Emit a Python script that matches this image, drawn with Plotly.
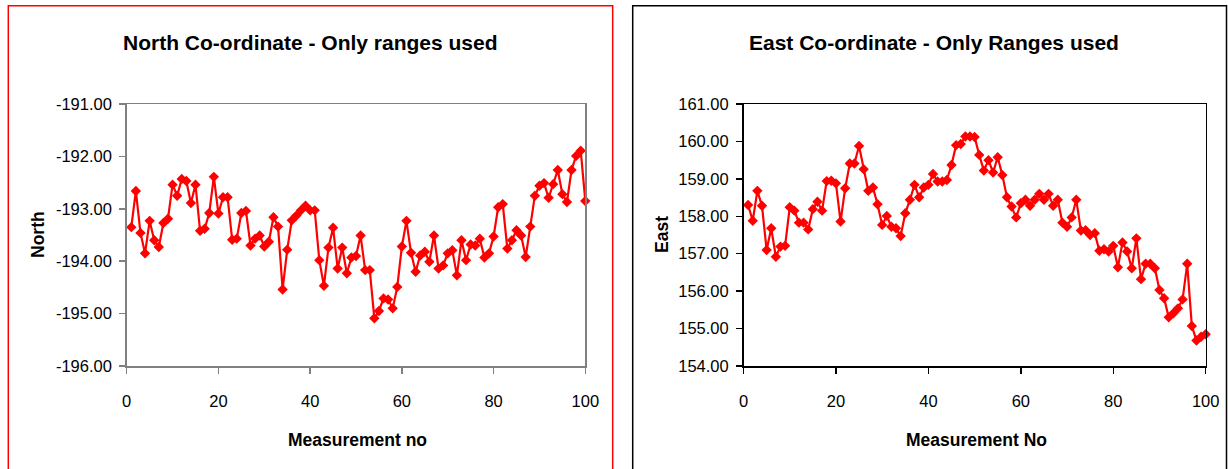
import plotly.graph_objects as go

# ---------------- data ----------------
measurement = list(range(1, 101))

north = [
    -193.35, -192.66, -193.46, -193.85, -193.23, -193.60, -193.73, -193.27, -193.19, -192.54,
    -192.75, -192.43, -192.47, -192.89, -192.54, -193.42, -193.38, -193.08, -192.39, -193.09,
    -192.78, -192.78, -193.59, -193.57, -193.08, -193.04, -193.70, -193.57, -193.51, -193.72,
    -193.63, -193.16, -193.34, -194.54, -193.78, -193.22, -193.13, -193.03, -192.94, -193.03,
    -193.03, -193.98, -194.47, -193.74, -193.36, -194.14, -193.74, -194.23, -193.93, -193.90,
    -193.51, -194.17, -194.17, -195.09, -194.95, -194.71, -194.73, -194.90, -194.49, -193.72,
    -193.23, -193.84, -194.20, -193.89, -193.82, -194.01, -193.51, -194.14, -194.08, -193.85,
    -193.79, -194.27, -193.60, -193.98, -193.68, -193.70, -193.57, -193.93, -193.85, -193.53,
    -192.97, -192.91, -193.76, -193.60, -193.41, -193.51, -193.92, -193.34, -192.75, -192.56,
    -192.51, -192.79, -192.53, -192.26, -192.72, -192.87, -192.26, -191.99, -191.89, -192.85,
]

east = [
    158.30, 157.88, 158.68, 158.28, 157.10, 157.68, 156.92, 157.19, 157.21, 158.24,
    158.15, 157.83, 157.83, 157.65, 158.19, 158.39, 158.15, 158.94, 158.95, 158.88,
    157.86, 158.75, 159.41, 159.41, 159.88, 159.26, 158.68, 158.77, 158.32, 157.77,
    158.01, 157.72, 157.68, 157.47, 158.08, 158.44, 158.84, 158.51, 158.77, 158.84,
    159.13, 158.93, 158.93, 158.97, 159.37, 159.90, 159.93, 160.13, 160.13, 160.12,
    159.64, 159.22, 159.50, 159.17, 159.58, 159.10, 158.51, 158.26, 157.97, 158.35,
    158.44, 158.28, 158.44, 158.60, 158.44, 158.60, 158.28, 158.44, 157.83, 157.72,
    157.97, 158.44, 157.62, 157.63, 157.50, 157.55, 157.08, 157.12, 157.06, 157.21,
    156.64, 157.30, 157.06, 156.61, 157.41, 156.32, 156.73, 156.73, 156.61, 156.03,
    155.81, 155.30, 155.41, 155.54, 155.78, 156.73, 155.07, 154.68, 154.78, 154.85,
]

x_ticks = [0, 20, 40, 60, 80, 100]
x_ticktext = ["0", "20", "40", "60", "80", "100"]

north_ticks = [-196, -195, -194, -193, -192, -191]
north_ticktext = ["-196.00", "-195.00", "-194.00", "-193.00", "-192.00", "-191.00"]

east_ticks = [154, 155, 156, 157, 158, 159, 160, 161]
east_ticktext = ["154.00", "155.00", "156.00", "157.00", "158.00", "159.00", "160.00", "161.00"]

title_north = "North Co-ordinate - Only ranges used"
title_east = "East Co-ordinate - Only Ranges used"
xtitle_north = "Measurement no"
xtitle_east = "Measurement No"
ytitle_north = "North"
ytitle_east = "East"

# ---------------- figure ----------------
W, H = 1228, 469
FONT = "Liberation Sans, Arial, sans-serif"
RED = "#FF0000"

fig = go.Figure()

fig.add_trace(go.Scatter(
    x=measurement, y=north, mode="lines+markers",
    line=dict(color=RED, width=2.2),
    marker=dict(symbol="diamond", size=8, color=RED),
    xaxis="x", yaxis="y", showlegend=False, cliponaxis=False, hoverinfo="skip",
))
fig.add_trace(go.Scatter(
    x=measurement, y=east, mode="lines+markers",
    line=dict(color=RED, width=2.2),
    marker=dict(symbol="diamond", size=8, color=RED),
    xaxis="x2", yaxis="y2", showlegend=False, cliponaxis=False, hoverinfo="skip",
))

def px(v):
    return v / W

def py(v):
    return 1 - v / H

tickfont = dict(family=FONT, size=16.5, color="black")

common_x = dict(
    range=[0, 100], tickvals=x_ticks, ticktext=x_ticktext, showgrid=False,
    zeroline=False, showline=True, mirror=True, ticks="outside", ticklen=6,
    tickfont=tickfont, ticklabelstandoff=14, automargin=False,
)
common_y = dict(
    showgrid=False, zeroline=False, showline=True, mirror=True, ticks="outside",
    ticklen=6, tickfont=tickfont, ticklabelstandoff=4, automargin=False,
)

fig.update_layout(
    width=W, height=H, autosize=False,
    margin=dict(l=0, r=0, t=0, b=0, pad=0, autoexpand=False),
    paper_bgcolor="white", plot_bgcolor="white",
    font=dict(family=FONT, color="black"),
    xaxis=dict(domain=[px(126.7), px(585.3)], anchor="y",
               linecolor="#808080", linewidth=1.5, tickcolor="#808080", tickwidth=1.5,
               **common_x),
    yaxis=dict(domain=[py(366), py(104)], anchor="x", range=[-196, -191],
               tickvals=north_ticks, ticktext=north_ticktext,
               linecolor="#808080", linewidth=1.5, tickcolor="#808080", tickwidth=1.5,
               **common_y),
    xaxis2=dict(domain=[px(743.5), px(1205.7)], anchor="y2",
                linecolor="black", linewidth=1.5, tickcolor="black", tickwidth=1.5,
                **common_x),
    yaxis2=dict(domain=[py(366), py(104)], anchor="x2", range=[154, 161],
                tickvals=east_ticks, ticktext=east_ticktext,
                linecolor="black", linewidth=1.5, tickcolor="black", tickwidth=1.5,
                **common_y),
)

# outer chart borders
fig.add_shape(type="rect", xref="paper", yref="paper",
              x0=px(8.3), x1=px(612.7), y0=-0.1, y1=py(5.7),
              line=dict(color=RED, width=1.5), fillcolor="rgba(0,0,0,0)", layer="above")
fig.add_shape(type="rect", xref="paper", yref="paper",
              x0=px(632.7), x1=px(1226.5), y0=-0.1, y1=py(5.7),
              line=dict(color="black", width=1.5), fillcolor="rgba(0,0,0,0)", layer="above")

title_font = dict(family=FONT, size=21, color="black")
axis_title_font = dict(family=FONT, size=17.5, color="black")

annos = [
    dict(text="<b>%s</b>" % title_north, x=px(310), y=py(42), font=title_font),
    dict(text="<b>%s</b>" % title_east, x=px(934), y=py(42), font=title_font),
    dict(text="<b>%s</b>" % xtitle_north, x=px(357), y=py(440), font=axis_title_font),
    dict(text="<b>%s</b>" % xtitle_east, x=px(976), y=py(440), font=axis_title_font),
    dict(text="<b>%s</b>" % ytitle_north, x=px(38), y=py(235), font=axis_title_font, textangle=-90),
    dict(text="<b>%s</b>" % ytitle_east, x=px(662), y=py(235), font=axis_title_font, textangle=-90),
]
for a in annos:
    fig.add_annotation(xref="paper", yref="paper", showarrow=False,
                       xanchor="center", yanchor="middle", **a)

fig.write_html(
    "out.html",
    config={"displayModeBar": False, "staticPlot": True},
    post_script="document.body.style.margin='0px';document.body.style.overflow='hidden';",
)
